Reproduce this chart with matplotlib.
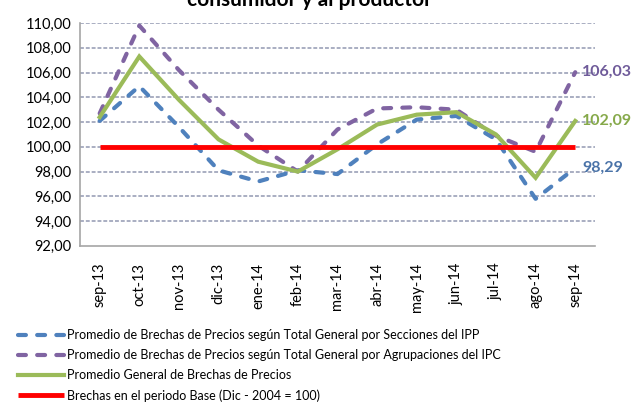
import matplotlib.pyplot as plt
import numpy as np

meses = ['sep-13', 'oct-13', 'nov-13', 'dic-13', 'ene-14', 'feb-14', 'mar-14',
         'abr-14', 'may-14', 'jun-14', 'jul-14', 'ago-14', 'sep-14']
ipp = [102.1, 104.9, 101.6, 98.1, 97.2, 98.1, 97.8, 100.2, 102.2, 102.5, 100.6, 95.8, 98.29]
ipc = [102.7, 109.8, 106.2, 103.0, 100.1, 98.0, 101.4, 103.1, 103.2, 103.0, 100.9, 99.6, 106.03]
general = [102.4, 107.3, 103.8, 100.6, 98.8, 98.0, 99.8, 101.8, 102.6, 102.8, 101.0, 97.5, 102.09]
base = [100.0] * len(meses)

nombres = ['Promedio de Brechas de Precios según Total General por Secciones del IPP',
           'Promedio de Brechas de Precios según Total General por Agrupaciones del IPC',
           'Promedio General de Brechas de Precios',
           'Brechas en el periodo Base (Dic - 2004 = 100)']

azul = '#4F81BD'
morado = '#8064A2'
verde = '#9BBB59'
rojo = '#FF0000'

plt.rcParams['font.family'] = ['Lato', 'DejaVu Sans']

fig = plt.figure(figsize=(6.44, 4.05), dpi=100)
ax = fig.add_axes([0.124, 0.393, 0.8, 0.55])

x = np.arange(len(meses))
ax.set_xlim(-0.5, len(meses) - 0.5)
ax.set_ylim(92, 110)
yt = np.arange(92, 110.1, 2)
ax.set_yticks(yt)
ax.set_yticklabels([('%.2f' % v).replace('.', ',') for v in yt], fontsize=10.5)
ax.set_xticks(x)
ax.set_xticklabels(meses, rotation=90, fontsize=10.5)
ax.tick_params(length=0, pad=6)
ax.tick_params(axis='x', pad=12)

for v in yt[1:]:
    ax.axhline(v, color='#A9AEC2', lw=1.4, ls=(0, (2, 1)), zorder=1)

for s in ['top', 'right']:
    ax.spines[s].set_visible(False)
for s in ['left', 'bottom']:
    ax.spines[s].set_color('#A6A6A6')
    ax.spines[s].set_linewidth(1.2)

guion = (0, (1.9, 2.7))
ax.plot(x, ipp, color=azul, lw=3, ls=guion, dash_capstyle='round', zorder=3, label=nombres[0])
ax.plot(x, ipc, color=morado, lw=3, ls=guion, dash_capstyle='round', zorder=3, label=nombres[1])
ax.plot(x, general, color=verde, lw=3, zorder=4, solid_joinstyle='miter', label=nombres[2])
ax.plot(x, base, color=rojo, lw=3.5, zorder=5, solid_capstyle='butt', label=nombres[3])

for serie, col in [(ipc, '#6F5B9A'), (general, '#86A94A'), (ipp, '#4A73A8')]:
    ax.annotate(('%.2f' % serie[-1]).replace('.', ','), (x[-1], serie[-1]),
                xytext=(5, 0), textcoords='offset points', va='center', ha='left',
                fontsize=11.5, fontweight='bold', color=col, annotation_clip=False)

# el titulo viene recortado en la imagen original
fig.text(0.48, 0.985, 'consumidor y al productor', ha='center', va='baseline',
         fontsize=15, fontweight='bold')

fig.legend(loc='upper left', bbox_to_anchor=(0.02, 0.2),
           frameon=False, fontsize=9, handlelength=3.7, handletextpad=0.2,
           labelspacing=0.64, borderaxespad=0)

fig.savefig('out.png', dpi=100)
